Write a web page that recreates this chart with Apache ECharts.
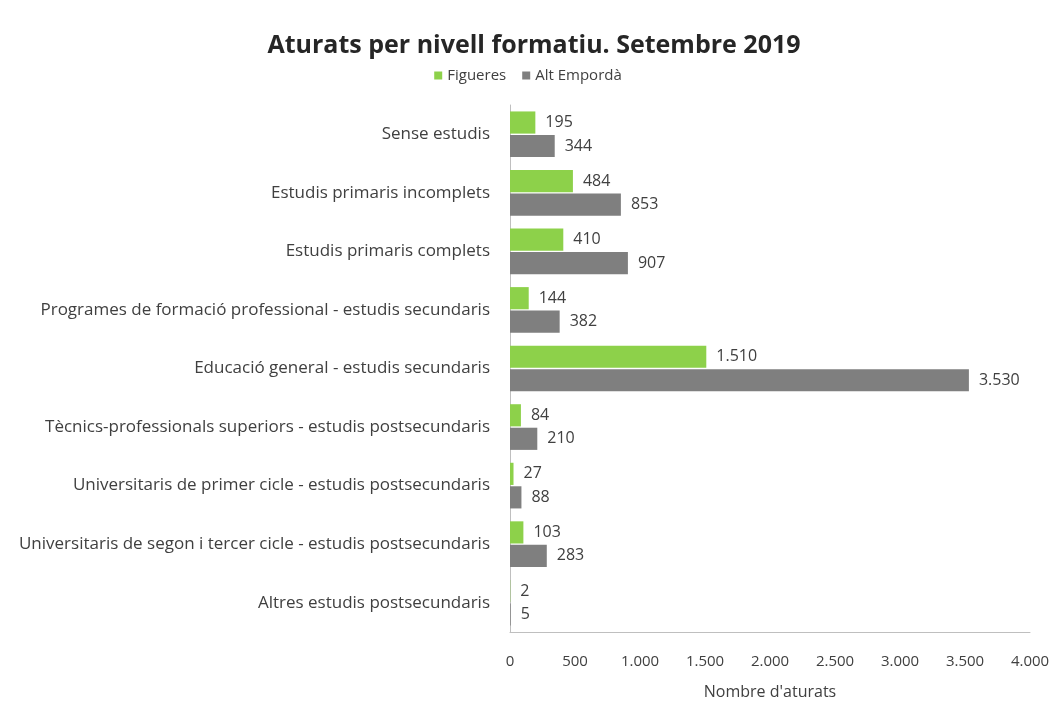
<!DOCTYPE html>
<html>
<head>
<meta charset="utf-8">
<script src="https://cdn.jsdelivr.net/npm/echarts@6/dist/echarts.min.js"></script>
<style>
  html, body { margin: 0; padding: 0; background: #fff; }
  #chart { width: 1056px; height: 709px; }
</style>
</head>
<body>
<div id="chart"></div>
<script>
const categories = [
  'Sense estudis',
  'Estudis primaris incomplets',
  'Estudis primaris complets',
  'Programes de formació professional - estudis secundaris',
  'Educació general - estudis secundaris',
  'Tècnics-professionals superiors - estudis postsecundaris',
  'Universitaris de primer cicle - estudis postsecundaris',
  'Universitaris de segon i tercer cicle - estudis postsecundaris',
  'Altres estudis postsecundaris',
]
const figueres = [195, 484, 410, 144, 1510, 84, 27, 103, 2]
const altEmporda = [344, 853, 907, 382, 3530, 210, 88, 283, 5]

const FONT = "'Open Sans', Lato, sans-serif"

// 1.510 style thousands separator
const fmt = (v) => String(v).replace(/\B(?=(\d{3})+(?!\d))/g, '.')

const chart = echarts.init(document.getElementById('chart'))

const labelStyle = {
  show: true,
  position: 'right',
  distance: 10,
  color: '#404040',
  fontSize: 16,
  fontFamily: FONT,
  formatter: (p) => fmt(p.value),
}

chart.setOption({
  backgroundColor: '#fff',
  animation: false,
  title: {
    text: 'Aturats per nivell formatiu. Setembre 2019',
    left: 529,
    textAlign: 'center',
    top: 28,
    textStyle: { fontSize: 25, fontWeight: 'bold', color: '#262626', fontFamily: FONT },
  },
  legend: {
    top: 63,
    left: 'center',
    itemWidth: 8,
    itemHeight: 8,
    itemGap: 16,
    icon: 'rect',
    textStyle: { fontSize: 15, color: '#404040', fontFamily: FONT },
    data: ['Figueres', 'Alt Empordà'],
  },
  grid: { left: 510, right: 26, top: 105, bottom: 77 },
  xAxis: {
    type: 'value',
    min: 0,
    max: 4000,
    interval: 500,
    name: "Nombre d'aturats",
    nameLocation: 'middle',
    nameGap: 52,
    nameTextStyle: { fontSize: 16, color: '#404040', fontFamily: FONT },
    axisLine: { show: true, lineStyle: { color: '#bfbfbf' } },
    axisTick: { show: false },
    splitLine: { show: false },
    axisLabel: {
      color: '#404040',
      fontSize: 15,
      fontFamily: FONT,
      margin: 22,
      formatter: fmt,
    },
  },
  yAxis: {
    type: 'category',
    data: categories,
    inverse: true,
    axisLine: { show: true, lineStyle: { color: '#bfbfbf' } },
    axisTick: { show: false },
    axisLabel: { color: '#404040', fontSize: 17, fontFamily: FONT, margin: 20 },
  },
  series: [
    {
      name: 'Figueres',
      type: 'bar',
      data: figueres,
      barGap: '6%',
      barCategoryGap: '22%',
      itemStyle: { color: '#8dd14a' },
      label: labelStyle,
    },
    {
      name: 'Alt Empordà',
      type: 'bar',
      data: altEmporda,
      itemStyle: { color: '#7f7f7f' },
      label: labelStyle,
    },
  ],
})
</script>
</body>
</html>
